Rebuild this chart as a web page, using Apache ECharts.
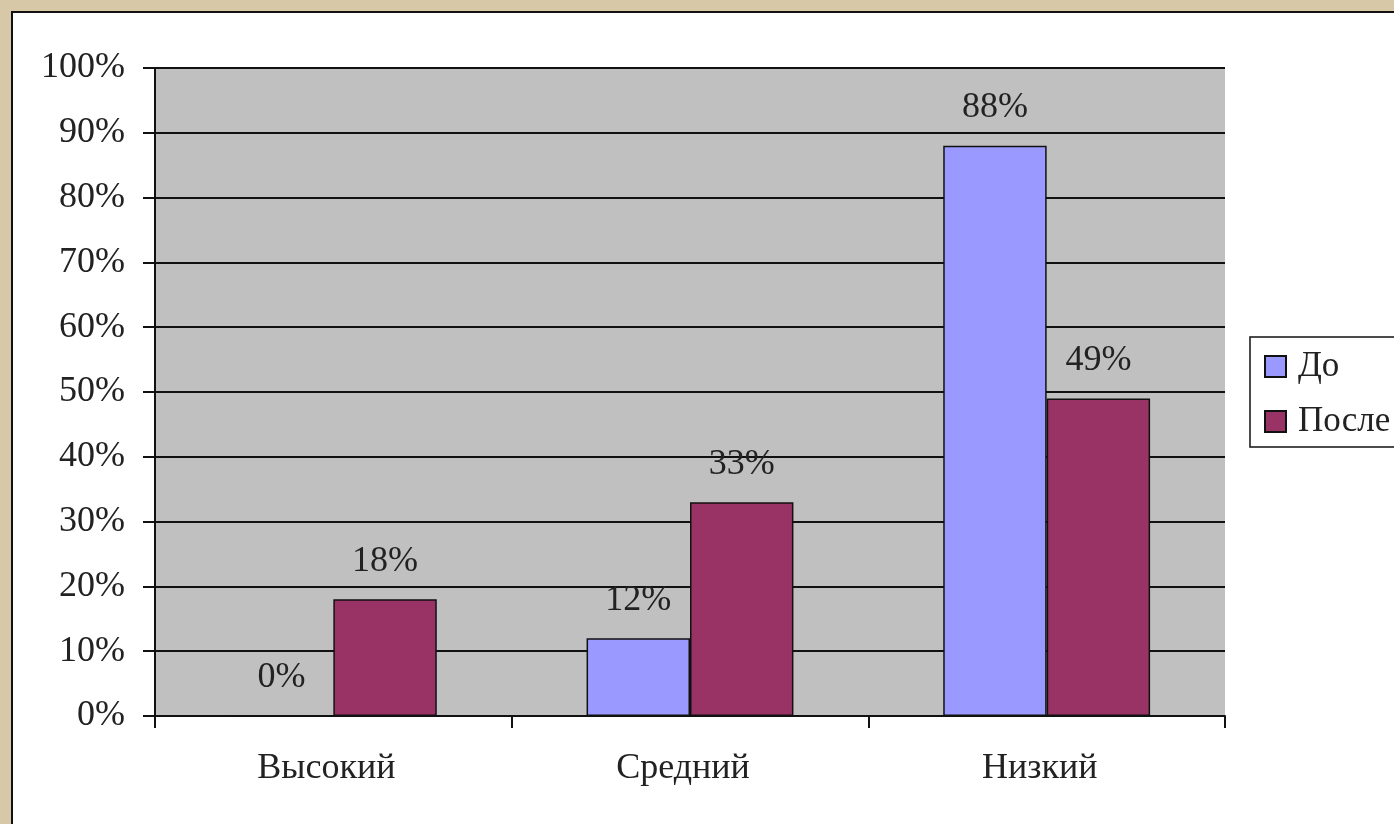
<!DOCTYPE html>
<html>
<head>
<meta charset="utf-8">
<script src="https://cdn.jsdelivr.net/npm/echarts@6/dist/echarts.min.js"></script>
<style>
  html, body { margin: 0; padding: 0; }
  body { width: 1394px; height: 824px; background: #d7c8a8; position: relative; overflow: hidden; }
  #panel { position: absolute; left: 11px; top: 11px; width: 1400px; height: 820px; background: #ffffff; border-left: 2px solid #111; border-top: 2px solid #111; }
  #chart { position: absolute; left: 0; top: 0; width: 1394px; height: 824px; }
</style>
</head>
<body>
<div id="panel"></div>
<div id="chart"></div>
<script>
const categories = ['Высокий', 'Средний', 'Низкий'];
const seriesNames = ['До', 'После'];
const valuesBefore = [0, 12, 88];
const valuesAfter = [18, 33, 49];
const yTicks = [0, 10, 20, 30, 40, 50, 60, 70, 80, 90, 100];

const font = '"Liberation Serif", "Times New Roman", serif';
const chart = echarts.init(document.getElementById('chart'), null, { renderer: 'canvas' });

const labelCfg = {
  show: true,
  position: 'top',
  distance: 20,
  formatter: p => p.value + '%',
  fontFamily: font,
  fontSize: 36,
  color: '#222'
};

chart.setOption({
  animation: false,
  backgroundColor: 'transparent',
  grid: {
    left: 155, top: 68, width: 1070, height: 648,
    show: true, backgroundColor: '#c0c0c0', borderWidth: 0
  },
  legend: {
    orient: 'vertical',
    left: 1250, top: 337,
    data: seriesNames,
    itemWidth: 21, itemHeight: 21, itemGap: 20,
    icon: 'rect',
    borderColor: '#111', borderWidth: 1.5,
    padding: [12, 60, 8, 14],
    backgroundColor: '#ffffff',
    textStyle: { fontFamily: font, fontSize: 35, color: '#222', padding: [0, 0, 0, 7] }
  },
  xAxis: {
    type: 'category',
    data: categories,
    axisLine: { show: true, lineStyle: { color: '#111', width: 2 } },
    axisTick: { show: true, length: 12, lineStyle: { color: '#111', width: 2 } },
    axisLabel: { margin: 35, fontFamily: font, fontSize: 36, color: '#222', padding: [0, 14, 0, 0] },
    splitLine: { show: false }
  },
  yAxis: {
    type: 'value',
    min: 0, max: 100, interval: 10,
    axisLine: { show: true, lineStyle: { color: '#111', width: 2 } },
    axisTick: { show: true, length: 12, lineStyle: { color: '#111', width: 2 } },
    axisLabel: {
      margin: 30, fontFamily: font, fontSize: 36, color: '#222',
      formatter: v => (yTicks.includes(v) ? v + '%' : '')
    },
    splitLine: { show: true, lineStyle: { color: '#111', width: 2 } }
  },
  series: [
    {
      name: seriesNames[0], type: 'bar', data: valuesBefore,
      barGap: '0%', barCategoryGap: '42%',
      itemStyle: { color: '#9999ff', borderColor: '#111', borderWidth: 1.5 },
      label: labelCfg
    },
    {
      name: seriesNames[1], type: 'bar', data: valuesAfter,
      barGap: '0%', barCategoryGap: '42%',
      itemStyle: { color: '#993366', borderColor: '#111', borderWidth: 1.5 },
      label: labelCfg
    }
  ]
});
</script>
</body>
</html>
